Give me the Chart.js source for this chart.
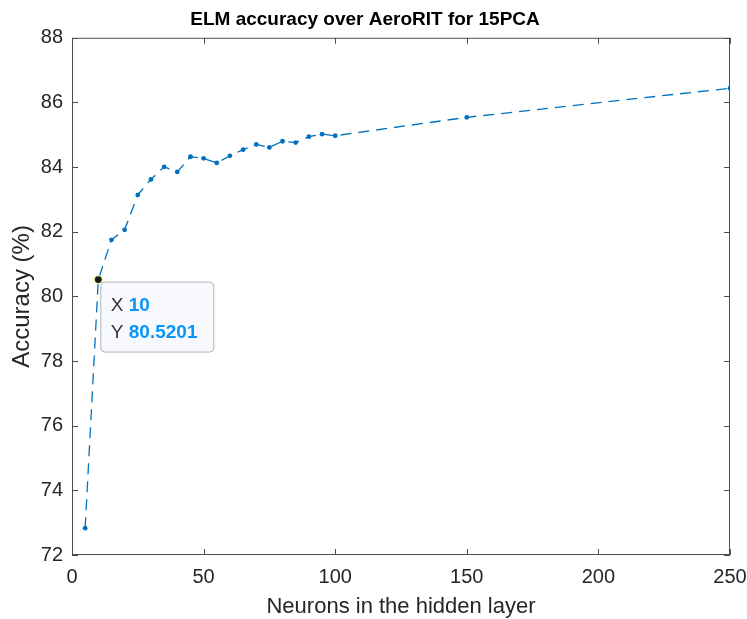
<!DOCTYPE html>
<html>
<head>
<meta charset="utf-8">
<script src="https://cdn.jsdelivr.net/npm/chart.js@4.4.1/dist/chart.umd.min.js"></script>
<style>
    html, body { margin: 0; padding: 0; background: #fff; }
    #wrap { width: 747px; height: 619px; position: relative; }
</style>
</head>
<body>
<div id="wrap"><canvas id="elmChart"></canvas></div>
<script>
const neurons = [5, 10, 15, 20, 25, 30, 35, 40, 45, 50, 55, 60, 65, 70, 75, 80, 85, 90, 95, 100, 150, 250];
const accuracy = [72.83, 80.5201, 81.75, 82.06, 83.14, 83.62, 84.01, 83.85, 84.32, 84.27, 84.13, 84.35,
    84.54, 84.70, 84.61, 84.80, 84.76, 84.94, 85.02, 84.97, 85.54, 86.44];
const xTicks = [0, 50, 100, 150, 200, 250];
const yTicks = [72, 74, 76, 78, 80, 82, 84, 86, 88];
const tipIndex = 1;

const axisColor = '#4d4d4d';
const textColor = '#262626';
const lineBlue = '#0072bd';
const fontFamily = '"Liberation Sans", Arial, Helvetica, sans-serif';

// box around the plot with inward ticks, like MATLAB's "box on"
const boxPlugin = {
    id: 'boxAxes',
    afterDraw(chart) {
        const { ctx, chartArea: a, scales } = chart;
        const len = 6;
        ctx.save();
        ctx.strokeStyle = axisColor;
        ctx.lineWidth = 1;
        ctx.beginPath();
        ctx.rect(a.left + 0.5, a.top + 0.5, a.right - a.left - 1, a.bottom - a.top - 1);
        xTicks.forEach(v => {
            const px = Math.round(scales.x.getPixelForValue(v)) + 0.5;
            ctx.moveTo(px, a.bottom); ctx.lineTo(px, a.bottom - len);
            ctx.moveTo(px, a.top); ctx.lineTo(px, a.top + len);
        });
        yTicks.forEach(v => {
            const py = Math.round(scales.y.getPixelForValue(v)) + 0.5;
            ctx.moveTo(a.left, py); ctx.lineTo(a.left + len, py);
            ctx.moveTo(a.right, py); ctx.lineTo(a.right - len, py);
        });
        ctx.stroke();
        ctx.restore();
    }
};

// MATLAB style data tip on one point
const dataTipPlugin = {
    id: 'dataTip',
    afterDraw(chart) {
        const { ctx } = chart;
        const pt = chart.getDatasetMeta(0).data[tipIndex];
        const x = pt.x, y = pt.y;
        ctx.save();
        const bx = x + 2.5, by = y + 2.5, bw = 113, bh = 70;
        ctx.beginPath();
        ctx.roundRect(bx, by, bw, bh, 4);
        ctx.fillStyle = 'rgba(248,248,255,0.95)';
        ctx.fill();
        ctx.strokeStyle = '#b4b4b4';
        ctx.lineWidth = 1;
        ctx.stroke();

        ctx.beginPath();
        ctx.arc(x, y, 4, 0, Math.PI * 2);
        ctx.fillStyle = '#1a1a1a';
        ctx.fill();
        ctx.strokeStyle = '#f3f0a0';
        ctx.lineWidth = 1.2;
        ctx.stroke();

        ctx.textBaseline = 'middle';
        ctx.textAlign = 'left';
        const rows = [['X', String(neurons[tipIndex])], ['Y', accuracy[tipIndex].toFixed(4)]];
        rows.forEach((r, i) => {
            const ty = by + 24 + i * 27;
            ctx.font = '19px ' + fontFamily;
            ctx.fillStyle = '#333';
            ctx.fillText(r[0], bx + 10, ty);
            const w = ctx.measureText(r[0] + ' ').width;
            ctx.font = 'bold 19px ' + fontFamily;
            ctx.fillStyle = '#0a96f5';
            ctx.fillText(r[1], bx + 10 + w, ty);
        });
        ctx.restore();
    }
};

const ctx = document.getElementById('elmChart').getContext('2d');
new Chart(ctx, {
    type: 'line',
    data: {
        datasets: [{
            data: neurons.map((n, i) => ({ x: n, y: accuracy[i] })),
            borderColor: lineBlue,
            backgroundColor: lineBlue,
            borderWidth: 1.3,
            borderDash: [11, 7],
            pointRadius: 2.4,
            pointBorderWidth: 0,
            tension: 0,
            fill: false
        }]
    },
    options: {
        responsive: true,
        maintainAspectRatio: false,
        animation: false,
        events: [],
        layout: { padding: { left: 0, right: 17, top: 0, bottom: 0 } },
        plugins: {
            legend: { display: false },
            tooltip: { enabled: false },
            title: {
                display: true,
                text: 'ELM accuracy over AeroRIT for 15PCA',
                color: '#000',
                font: { family: fontFamily, size: 19, weight: 'bold' },
                padding: { top: 8, bottom: 7 }
            }
        },
        scales: {
            x: {
                type: 'linear',
                min: 0,
                max: 250,
                afterBuildTicks: s => { s.ticks = xTicks.map(v => ({ value: v })); },
                afterFit: s => { s.height = 64; s.paddingLeft = 0; s.paddingRight = 0; },
                grid: { display: false, drawTicks: false },
                border: { display: false },
                ticks: {
                    color: textColor,
                    padding: 10,
                    maxRotation: 0,
                    font: { family: fontFamily, size: 20 }
                },
                title: {
                    display: true,
                    text: 'Neurons in the hidden layer',
                    color: textColor,
                    padding: { top: 0, bottom: -1 },
                    font: { family: fontFamily, size: 22 }
                }
            },
            y: {
                type: 'linear',
                min: 72,
                max: 88,
                afterBuildTicks: s => { s.ticks = yTicks.map(v => ({ value: v })); },
                afterFit: s => { s.width = 72; },
                grid: { display: false, drawTicks: false },
                border: { display: false },
                ticks: {
                    color: textColor,
                    padding: 9,
                    font: { family: fontFamily, size: 20 }
                },
                title: {
                    display: true,
                    text: 'Accuracy (%)',
                    color: textColor,
                    padding: { top: 8, bottom: 0 },
                    font: { family: fontFamily, size: 24 }
                }
            }
        }
    },
    plugins: [boxPlugin, dataTipPlugin]
});
</script>
</body>
</html>
